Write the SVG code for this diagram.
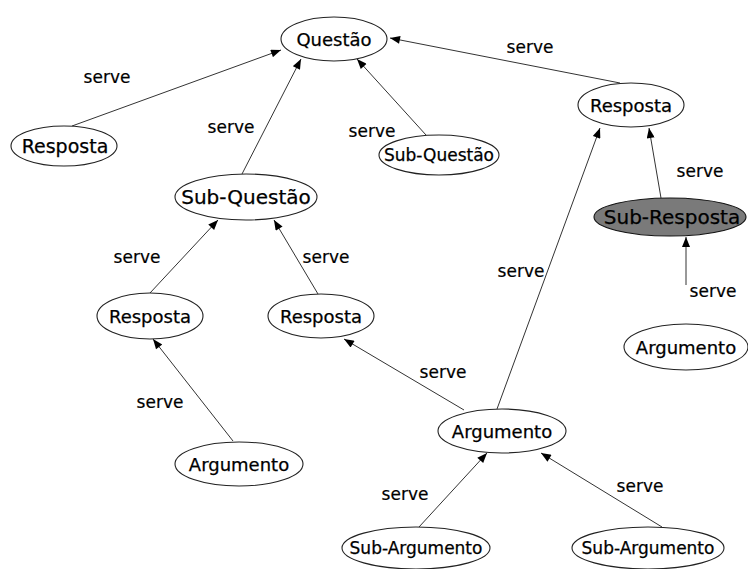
<svg xmlns="http://www.w3.org/2000/svg" width="748" height="569" viewBox="0 0 748 569">
  <style>
    .node ellipse { fill: #ffffff; stroke: #222222; stroke-width: 1.1; }
    .node text { font-family: "DejaVu Sans", Verdana, sans-serif; font-size: 18px; fill: #000000; stroke: #000000; stroke-width: 0.25; text-anchor: middle; dominant-baseline: central; }
    .node.dark ellipse { fill: #7a7a7a; stroke: #111111; }
    .edges line { stroke: #333333; stroke-width: 1; fill: none; marker-end: url(#arrow); }
    .lbl { font-family: "DejaVu Sans", Verdana, sans-serif; font-size: 17px; fill: #000000; stroke: #000000; stroke-width: 0.2; text-anchor: middle; }
  </style>
  <defs>
    <marker id="arrow" viewBox="0 0 10 8" refX="10" refY="4" markerWidth="12" markerHeight="8" markerUnits="userSpaceOnUse" orient="auto">
      <path d="M0,0 L10,4 L0,8 Z" fill="#000000"/>
    </marker>
  </defs>
  <rect width="748" height="569" fill="#ffffff"/>

  <g id="connectors" class="edges">
    <line x1="72" y1="126" x2="281" y2="50"/>
    <line x1="242" y1="174" x2="301" y2="59"/>
    <line x1="426" y1="135" x2="357" y2="59"/>
    <line x1="620" y1="83" x2="390" y2="38"/>
    <line x1="661" y1="198" x2="649" y2="128"/>
    <line x1="686" y1="285" x2="686" y2="237"/>
    <line x1="233" y1="441" x2="153" y2="339"/>
    <line x1="150" y1="293" x2="218" y2="220"/>
    <line x1="318" y1="294" x2="274" y2="220"/>
    <line x1="464" y1="410" x2="344" y2="339"/>
    <line x1="497" y1="409" x2="600" y2="128"/>
    <line x1="419" y1="527" x2="487" y2="453"/>
    <line x1="662" y1="527" x2="541" y2="453"/>
  </g>

  <g id="edge-labels">
    <text class="lbl" x="107" y="83">serve</text>
    <text class="lbl" x="231" y="133">serve</text>
    <text class="lbl" x="372" y="137">serve</text>
    <text class="lbl" x="530" y="53">serve</text>
    <text class="lbl" x="700" y="177">serve</text>
    <text class="lbl" x="713" y="297">serve</text>
    <text class="lbl" x="160" y="408">serve</text>
    <text class="lbl" x="137" y="263">serve</text>
    <text class="lbl" x="326" y="263">serve</text>
    <text class="lbl" x="443" y="378">serve</text>
    <text class="lbl" x="521" y="277">serve</text>
    <text class="lbl" x="405" y="500">serve</text>
    <text class="lbl" x="640" y="492">serve</text>
  </g>

  <g id="questao" class="node"><ellipse cx="334" cy="39" rx="53" ry="22"/><text x="334" y="39">Questão</text></g>
  <g id="resposta-1" class="node"><ellipse cx="64" cy="146" rx="53" ry="20"/><text x="65" y="146" style="font-size:19px">Resposta</text></g>
  <g id="subquestao-1" class="node"><ellipse cx="246" cy="197" rx="71" ry="23"/><text x="246" y="197" style="font-size:20px">Sub-Questão</text></g>
  <g id="subquestao-2" class="node"><ellipse cx="439" cy="155" rx="60" ry="20"/><text x="439" y="155" style="font-size:17px">Sub-Questão</text></g>
  <g id="resposta-4" class="node"><ellipse cx="631" cy="105" rx="53" ry="22"/><text x="631" y="105">Resposta</text></g>
  <g id="subresposta" class="node dark"><ellipse cx="670" cy="217" rx="76" ry="19"/><text x="672" y="217" style="font-size:20px">Sub-Resposta</text></g>
  <g id="resposta-2" class="node"><ellipse cx="150" cy="316" rx="53" ry="23"/><text x="150" y="316">Resposta</text></g>
  <g id="resposta-3" class="node"><ellipse cx="321" cy="316" rx="53" ry="22"/><text x="321" y="316">Resposta</text></g>
  <g id="argumento-1" class="node"><ellipse cx="239" cy="464" rx="64" ry="22"/><text x="239" y="464">Argumento</text></g>
  <g id="argumento-2" class="node"><ellipse cx="502" cy="431" rx="64" ry="22"/><text x="502" y="431">Argumento</text></g>
  <g id="argumento-3" class="node"><ellipse cx="686" cy="347" rx="62" ry="23"/><text x="686" y="347">Argumento</text></g>
  <g id="subargumento-1" class="node"><ellipse cx="416" cy="548" rx="74" ry="21"/><text x="416" y="548" style="font-size:17px">Sub-Argumento</text></g>
  <g id="subargumento-2" class="node"><ellipse cx="648" cy="548" rx="76" ry="21"/><text x="648" y="548" style="font-size:17px">Sub-Argumento</text></g>
</svg>
